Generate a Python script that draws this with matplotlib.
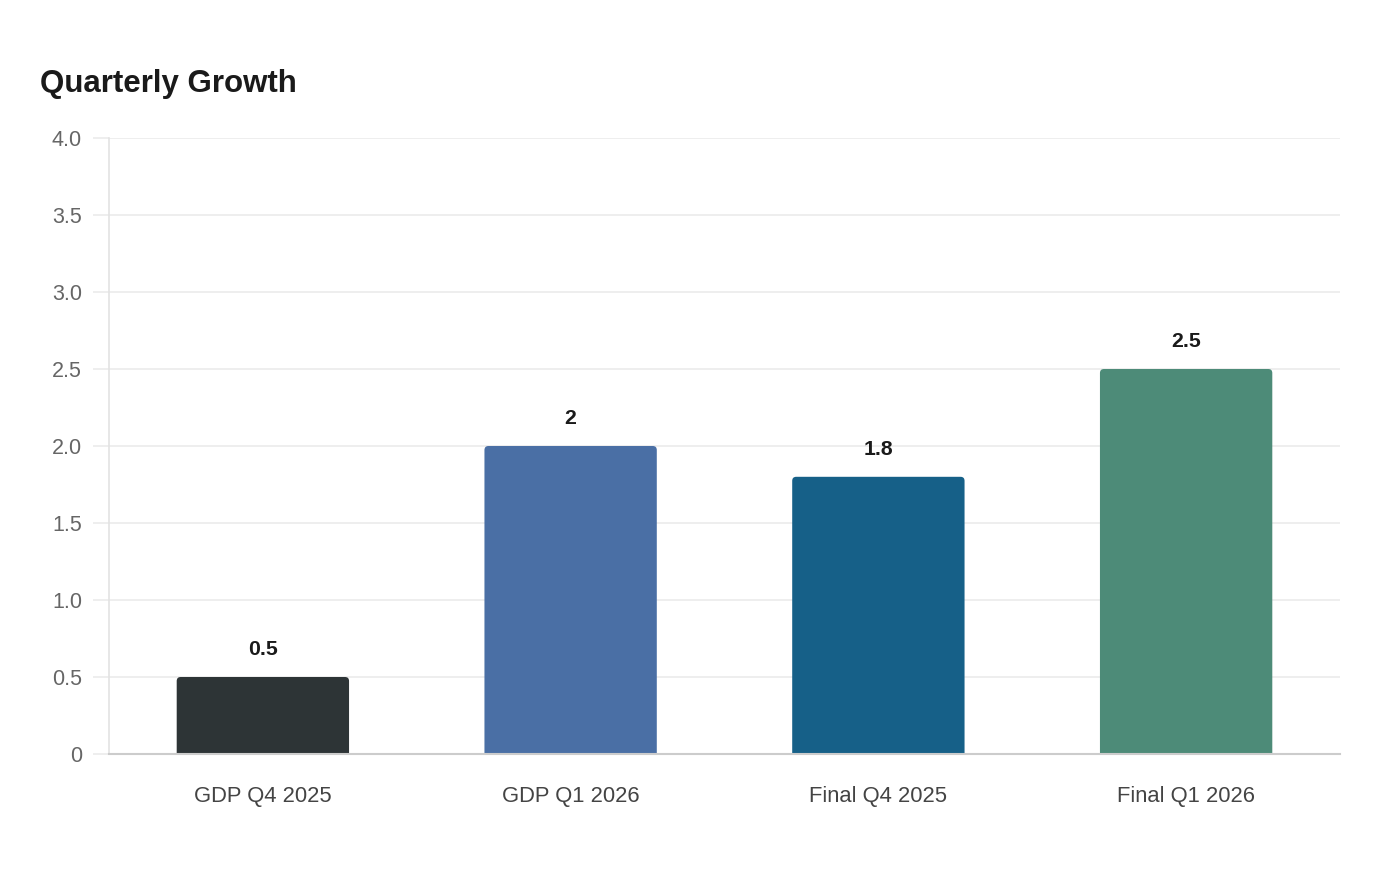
import matplotlib.pyplot as plt
from matplotlib.patches import FancyBboxPatch

plt.rcParams['font.family'] = ['Liberation Sans', 'DejaVu Sans']

categories = ['GDP Q4 2025', 'GDP Q1 2026', 'Final Q4 2025', 'Final Q1 2026']
growth = [0.5, 2.0, 1.8, 2.5]
value_labels = ['0.5', '2', '1.8', '2.5']
bar_colors = ['#2d3436', '#4a6fa5', '#166088', '#4d8b78']
y_ticks = [0, 0.5, 1.0, 1.5, 2.0, 2.5, 3.0, 3.5, 4.0]
y_tick_labels = ['0', '0.5', '1.0', '1.5', '2.0', '2.5', '3.0', '3.5', '4.0']


def rounded_bars(ax, xs, heights, colors, width=0.56):
    # ax.bar has no corner radius, so swap each bar for a rounded box
    bars = ax.bar(xs, heights, width=width, color=colors)
    for bar, c in zip(bars, colors):
        x0, w, h = bar.get_x(), bar.get_width(), bar.get_height()
        bar.remove()
        box = FancyBboxPatch((x0, -0.05), w, h + 0.05,
                             boxstyle='round,pad=0,rounding_size=0.013',
                             mutation_aspect=2.0, facecolor=c, edgecolor='none',
                             zorder=2)
        ax.add_patch(box)


fig = plt.figure(figsize=(14, 8.8), dpi=100)
ax = fig.add_axes([109 / 1400, 126 / 880, 1231 / 1400, 616 / 880])

xs = list(range(len(categories)))
rounded_bars(ax, xs, growth, bar_colors)

for x, v, lab in zip(xs, growth, value_labels):
    ax.annotate(lab, (x, v), xytext=(0, 20), textcoords='offset points',
                ha='center', va='center', fontsize=15.3, fontweight='bold',
                color='#1a1a1a')

ax.set_xlim(-0.5, len(categories) - 0.5)
ax.set_ylim(0, 4.0)
ax.set_yticks(y_ticks)
ax.set_yticklabels(y_tick_labels)
ax.set_xticks(xs)
ax.set_xticklabels(categories)

ax.grid(axis='y', color='#ebebeb', linewidth=1.2, zorder=0)
ax.set_axisbelow(True)
for side in ['top', 'right']:
    ax.spines[side].set_visible(False)
ax.spines['left'].set_color('#e3e3e3')
ax.spines['left'].set_linewidth(1.2)
ax.spines['bottom'].set_color('#cccccc')
ax.spines['bottom'].set_linewidth(1.5)
ax.spines['bottom'].set_zorder(3)

ax.tick_params(axis='y', length=11.5, width=1.2, color='#ebebeb', pad=8,
               labelsize=15.5, labelcolor='#666666')
ax.tick_params(axis='x', length=0, pad=23, labelsize=15.8, labelcolor='#444444')

fig.text(40 / 1400, 1 - 92 / 880, 'Quarterly Growth', fontsize=22.5,
         fontweight='bold', color='#1a1a1a', ha='left', va='baseline')

fig.savefig('out.png', dpi=100, facecolor='white')
